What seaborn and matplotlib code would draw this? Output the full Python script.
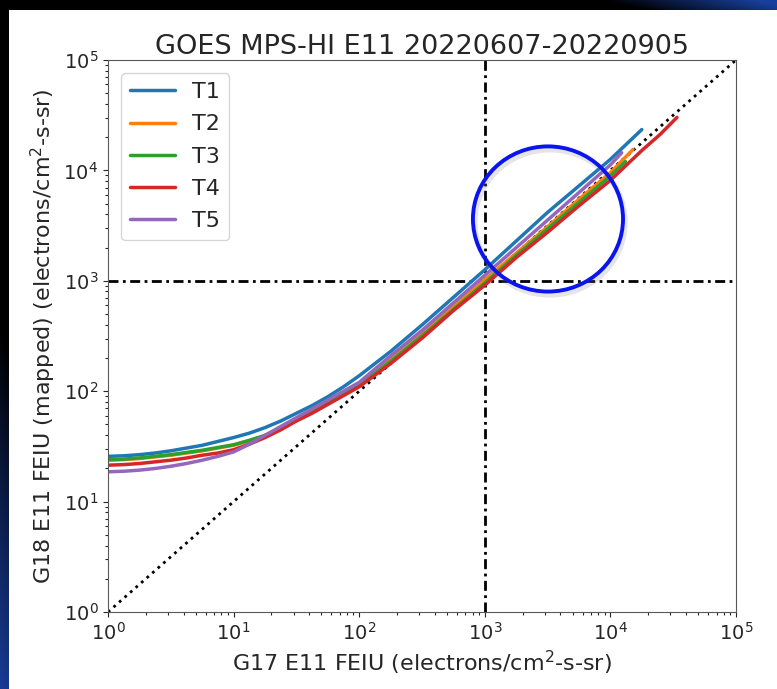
import numpy as np
import pandas as pd
import seaborn as sns
import matplotlib
matplotlib.use("Agg")
from matplotlib import pyplot as plt
from matplotlib.patches import Ellipse, Rectangle
from matplotlib.ticker import LogLocator, NullFormatter

# log10 of the G17 flux (x) and of the mapped G18 flux (y)
LOW_LOGX = [0, 0.125, 0.25, 0.375, 0.5, 0.625, 0.75, 0.875, 1.0, 1.125, 1.25, 1.375,
            1.5, 1.625, 1.75, 1.875, 2.0, 2.25, 2.5, 2.75, 3.0, 3.25, 3.5, 3.75, 4.0]

T1_LOGX = LOW_LOGX + [4.25]
T1_LOGY = [1.41, 1.415, 1.425, 1.44, 1.46, 1.485, 1.51, 1.545, 1.58, 1.62, 1.67, 1.73,
           1.80, 1.87, 1.95, 2.04, 2.14, 2.36, 2.60, 2.85, 3.10, 3.36, 3.62, 3.86, 4.10, 4.37]

T2_LOGX = LOW_LOGX + [4.18]
T2_LOGY = [1.375, 1.38, 1.39, 1.405, 1.42, 1.44, 1.46, 1.485, 1.51, 1.55, 1.595, 1.66,
           1.735, 1.81, 1.89, 1.98, 2.07, 2.29, 2.52, 2.77, 3.01, 3.25, 3.49, 3.74, 3.98, 4.19]

T3_LOGX = LOW_LOGX + [4.12]
T3_LOGY = [1.38, 1.385, 1.395, 1.41, 1.425, 1.445, 1.465, 1.49, 1.515, 1.555, 1.60, 1.665,
           1.74, 1.81, 1.89, 1.97, 2.05, 2.27, 2.50, 2.74, 2.98, 3.23, 3.47, 3.71, 3.95, 4.08]

T4_LOGX = LOW_LOGX + [4.25, 4.4, 4.53]
T4_LOGY = [1.33, 1.335, 1.345, 1.36, 1.375, 1.395, 1.42, 1.44, 1.47, 1.52, 1.58, 1.65,
           1.73, 1.80, 1.88, 1.96, 2.04, 2.25, 2.48, 2.73, 2.96, 3.21, 3.44, 3.68, 3.91,
           4.18, 4.33, 4.48]

T5_LOGX = LOW_LOGX + [4.09]
T5_LOGY = [1.27, 1.275, 1.285, 1.30, 1.32, 1.345, 1.375, 1.41, 1.45, 1.52, 1.60, 1.68,
           1.76, 1.84, 1.92, 2.00, 2.08, 2.32, 2.55, 2.80, 3.05, 3.30, 3.55, 3.80, 4.05, 4.16]

SERIES = ["T1", "T2", "T3", "T4", "T5"]
AX_LIM = [1, 1e5]
THRESHOLD = 1e3

frames = []
for name, lx, ly in zip(SERIES,
                        [T1_LOGX, T2_LOGX, T3_LOGX, T4_LOGX, T5_LOGX],
                        [T1_LOGY, T2_LOGY, T3_LOGY, T4_LOGY, T5_LOGY]):
    frames.append(pd.DataFrame({"g17": 10 ** np.array(lx), "g18": 10 ** np.array(ly), "tel": name}))
data = pd.concat(frames, ignore_index=True)

sns.set_style("ticks")
plt.rcParams["font.family"] = ["DejaVu Sans"]

fig = plt.figure(figsize=(7.77, 6.89), dpi=100)
fig.patch.set_facecolor("black")

# slide background: black with blue glow bottom-left and top-right
bg = fig.add_axes([0, 0, 1, 1], zorder=-10)
yy, xx = np.mgrid[0:1:300j, 0:1:300j]
glow = np.clip(1.8 * (yy - 0.7) - 8 * xx + 0.4, 0, 1) + np.clip(5 * (xx - 0.78) - 20 * yy, 0, 1)
glow = np.clip(glow, 0, 1)
img = np.zeros((300, 300, 3))
img[..., 0] = 0.10 * glow
img[..., 1] = 0.25 * glow
img[..., 2] = 0.62 * glow
bg.imshow(img, origin="upper", extent=[0, 1, 0, 1], aspect="auto")
bg.set_axis_off()
fig.patches.append(Rectangle((9 / 777, 0), 1, 1 - 10 / 689, transform=fig.transFigure,
                             facecolor="white", edgecolor="none", zorder=-5))

ax = fig.add_axes([108 / 777, 77 / 689, 628 / 777, 552 / 689])
ax.set_xscale("log")
ax.set_yscale("log")

ax.plot(AX_LIM, AX_LIM, color="black", linestyle=":", lw=2)
ax.axvline(THRESHOLD, color="black", lw=2, linestyle=(0, (3.6, 1.6, 1, 1.6)))
ax.axhline(THRESHOLD, color="black", lw=2, linestyle=(0, (3.6, 1.6, 1, 1.6)))

sns.lineplot(data=data, x="g17", y="g18", hue="tel", palette=sns.color_palette("tab10", 5),
             estimator=None, sort=False, lw=2.5, ax=ax)

ax.set_xlim(AX_LIM)
ax.set_ylim(AX_LIM)
ax.set_title("GOES MPS-HI E11 20220607-20220905", fontsize=19.5, pad=4)
ax.set_xlabel("G17 E11 FEIU (electrons/cm$^2$-s-sr)", fontsize=16)
ax.set_ylabel("G18 E11 FEIU (mapped) (electrons/cm$^2$-s-sr)", fontsize=16)
ax.tick_params(labelsize=14, length=3.5)
for axis in (ax.xaxis, ax.yaxis):
    axis.set_minor_locator(LogLocator(base=10, subs=np.arange(2, 10), numticks=100))
    axis.set_minor_formatter(NullFormatter())
ax.tick_params(which="minor", length=2, width=0.8)
for s in ax.spines.values():
    s.set_color("0.35")

handles, labels = ax.get_legend_handles_labels()
for h in handles:
    h.set_linewidth(2.5)
ax.legend(handles, labels, loc="upper left", fontsize=16, handlelength=2.0,
          labelspacing=0.55, borderaxespad=0.6)

# highlight circle with a soft shadow
ax.add_patch(Ellipse((0.7036, 0.706), 0.239, 0.263, transform=ax.transAxes,
                     fill=False, edgecolor="0.5", alpha=0.2, lw=4, zorder=4))
ax.add_patch(Ellipse((0.7006, 0.712), 0.239, 0.263, transform=ax.transAxes,
                     fill=False, edgecolor="#0a14f0", lw=2.8, zorder=5))

fig.savefig("out.png", dpi=100, facecolor=fig.get_facecolor())
